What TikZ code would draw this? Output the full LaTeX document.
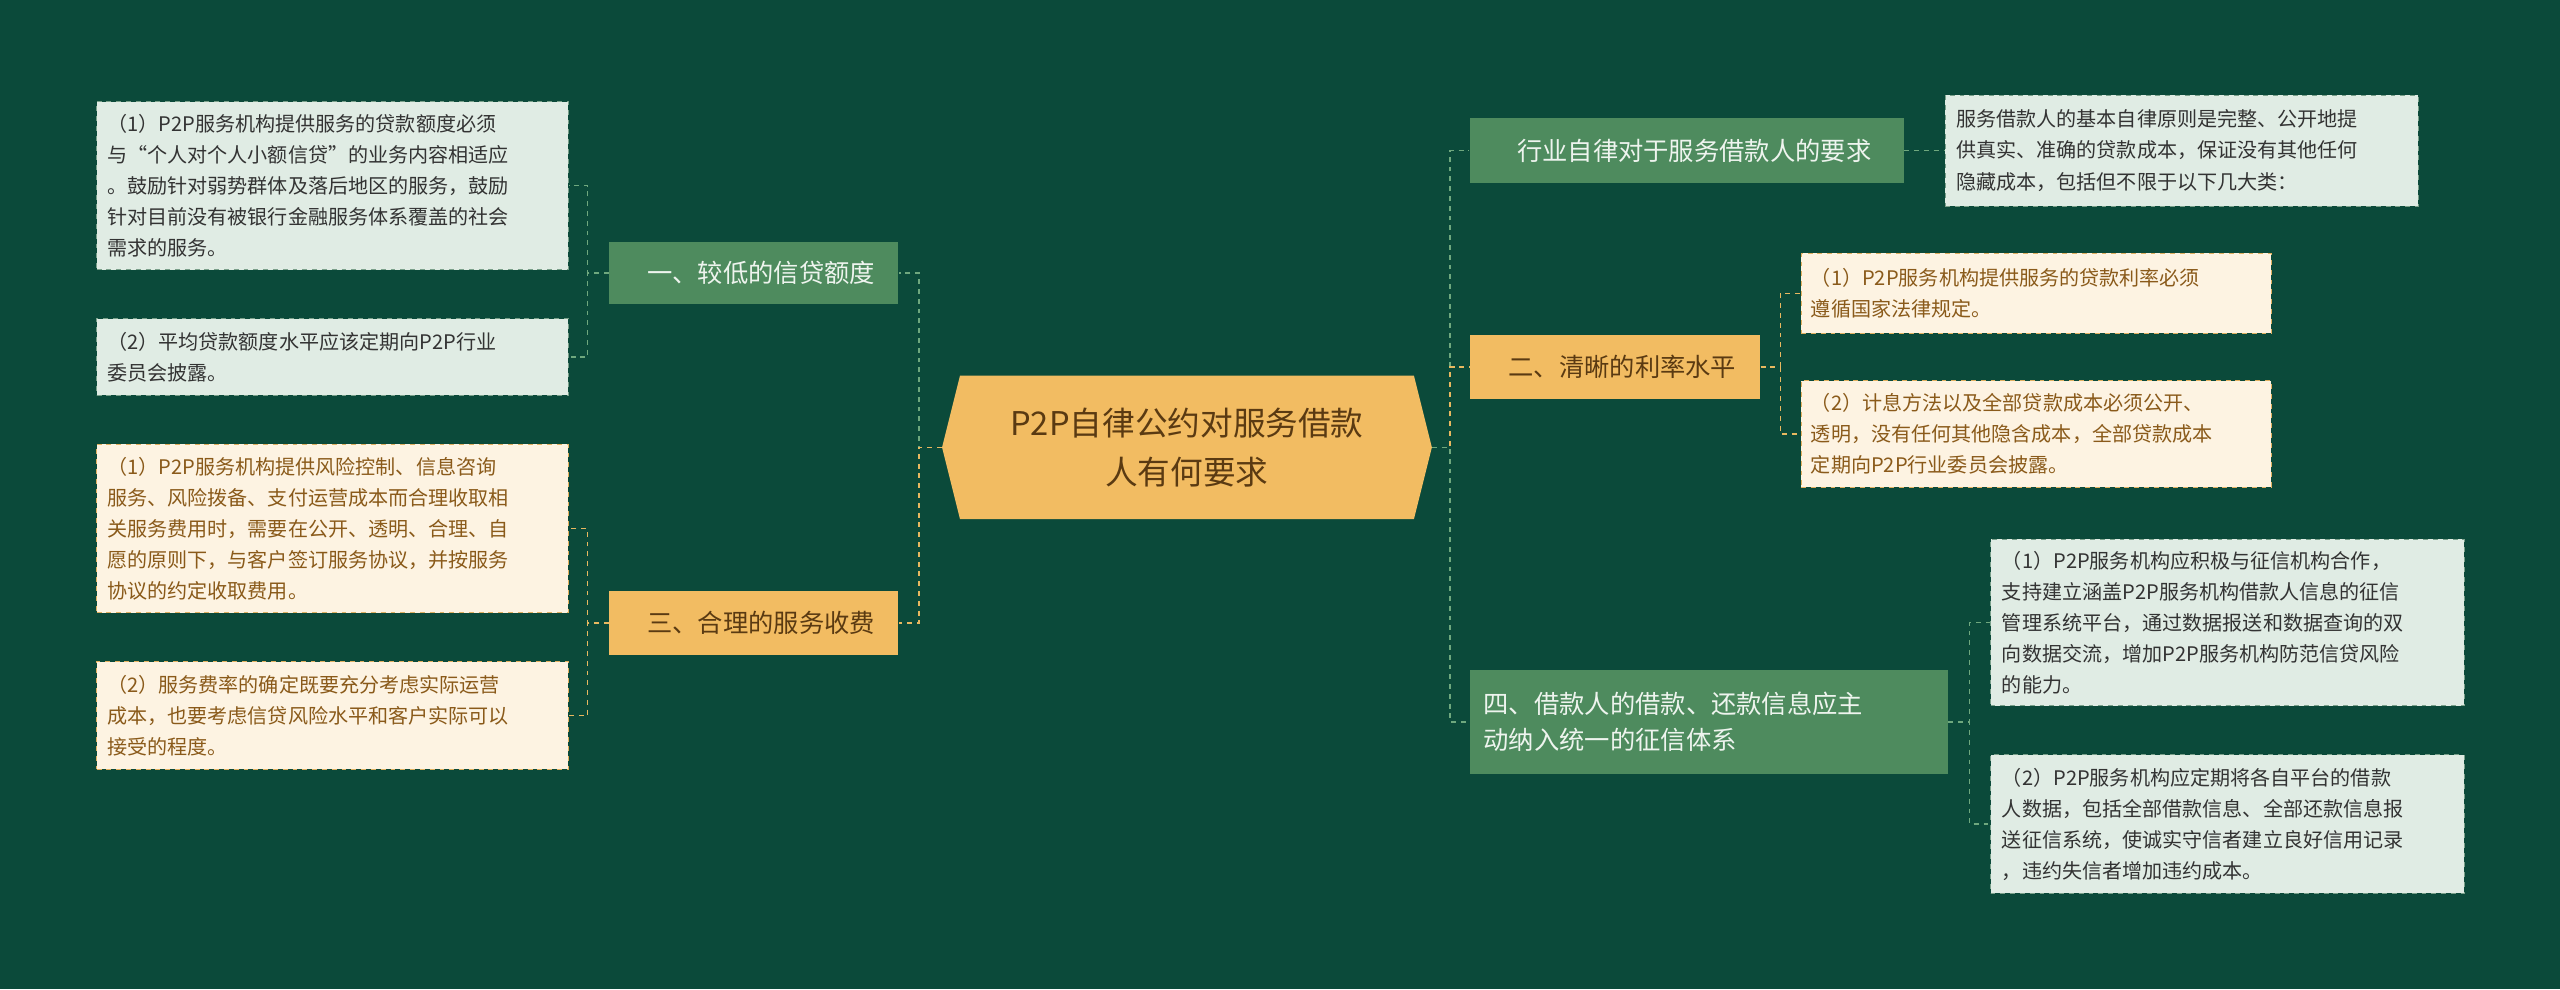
\documentclass[tikz,border=0pt]{standalone}
\usepackage{fontspec}
\setmainfont{Noto Sans CJK SC}
\begin{document}
\begin{tikzpicture}[x=1pt,y=-1pt,
  gb/.style={fill=gfill,text=gtext,inner sep=0pt,anchor=north west,font=\fontsize{15.5}{22}\selectfont,align=left},
  ob/.style={fill=ofill,text=otext,inner sep=0pt,anchor=north west,font=\fontsize{15.5}{22}\selectfont,align=left},
  gl/.style={fill=glfill,draw=glline,dashed,text=gltext,inner sep=0pt,anchor=north west,font=\fontsize{12.3}{19}\selectfont,align=left},
  ol/.style={fill=olfill,draw=olline,dashed,text=oltext,inner sep=0pt,anchor=north west,font=\fontsize{12.3}{19}\selectfont,align=left},
  gc/.style={draw=gline,dashed,line width=0.9pt},
  oc/.style={draw=oline,dashed,line width=0.9pt}]
\definecolor{bg}{HTML}{0B4A3A}
\definecolor{gfill}{HTML}{4E8B5E}
\definecolor{gtext}{HTML}{EEF4EE}
\definecolor{ofill}{HTML}{F2BC62}
\definecolor{otext}{HTML}{5A3A12}
\definecolor{glfill}{HTML}{E0ECE4}
\definecolor{glline}{HTML}{7AA08A}
\definecolor{gltext}{HTML}{333333}
\definecolor{olfill}{HTML}{FDF3E2}
\definecolor{olline}{HTML}{E0B060}
\definecolor{oltext}{HTML}{8A5A1A}
\definecolor{gline}{HTML}{6FA87E}
\definecolor{oline}{HTML}{E8B860}
\fill[bg] (0,0) rectangle (1568,606);
\useasboundingbox (0,0) rectangle (1568,606);
% center
\fill[ofill] (588,230) -- (866,230) -- (877,274) -- (866,318) -- (588,318) -- (577,274) -- cycle;
\node[inner sep=0pt,minimum width=300,minimum height=88,text=otext,align=center,font=\fontsize{20}{30}\selectfont] (c) at (727,274) {P2P自律公约对服务借款\\人有何要求};
% branches
\node[gb,minimum width=177,minimum height=38] (b1) at (373,148) {\hspace*{9pt}一、较低的信贷额度};
\node[ob,minimum width=177,minimum height=39] (b3) at (373,362) {\hspace*{9pt}三、合理的服务收费};
\node[gb,minimum width=266,minimum height=40] (r0) at (900,72) {\hspace*{9pt}行业自律对于服务借款人的要求};
\node[ob,minimum width=178,minimum height=39] (b2) at (900,205) {\hspace*{9pt}二、清晰的利率水平};
\node[gb,minimum width=293,minimum height=64,text width=276] (b4) at (900,410) {四、借款人的借款、还款信息应主\\动纳入统一的征信体系};
% leaves
\node[gl,minimum width=289,minimum height=103,text width=276] (l1) at (59,62) {（1）P2P服务机构提供服务的贷款额度必须\\与“个人对个人小额信贷”的业务内容相适应\\。鼓励针对弱势群体及落后地区的服务，鼓励\\针对目前没有被银行金融服务体系覆盖的社会\\需求的服务。};
\node[gl,minimum width=289,minimum height=47,text width=276] (l2) at (59,195) {（2）平均贷款额度水平应该定期向P2P行业\\委员会披露。};
\node[ol,minimum width=289,minimum height=103,text width=276] (l3) at (59,272) {（1）P2P服务机构提供风险控制、信息咨询\\服务、风险拨备、支付运营成本而合理收取相\\关服务费用时，需要在公开、透明、合理、自\\愿的原则下，与客户签订服务协议，并按服务\\协议的约定收取费用。};
\node[ol,minimum width=289,minimum height=66,text width=276] (l4) at (59,405) {（2）服务费率的确定既要充分考虑实际运营\\成本，也要考虑信贷风险水平和客户实际可以\\接受的程度。};
\node[gl,minimum width=290,minimum height=68,text width=276] (q0) at (1191,58) {服务借款人的基本自律原则是完整、公开地提\\供真实、准确的贷款成本，保证没有其他任何\\隐藏成本，包括但不限于以下几大类：};
\node[ol,minimum width=288,minimum height=49,text width=276] (q1) at (1103,155) {（1）P2P服务机构提供服务的贷款利率必须\\遵循国家法律规定。};
\node[ol,minimum width=288,minimum height=65,text width=276] (q2) at (1103,233) {（2）计息方法以及全部贷款成本必须公开、\\透明，没有任何其他隐含成本，全部贷款成本\\定期向P2P行业委员会披露。};
\node[gl,minimum width=290,minimum height=102,text width=276] (q3) at (1219,330) {（1）P2P服务机构应积极与征信机构合作，\\支持建立涵盖P2P服务机构借款人信息的征信\\管理系统平台，通过数据报送和数据查询的双\\向数据交流，增加P2P服务机构防范信贷风险\\的能力。};
\node[gl,minimum width=290,minimum height=85,text width=276] (q4) at (1219,462) {（2）P2P服务机构应定期将各自平台的借款\\人数据，包括全部借款信息、全部还款信息报\\送征信系统，使诚实守信者建立良好信用记录\\，违约失信者增加违约成本。};
% connectors center
\draw[gc] (c.west) -- ++(-14,0) |- (b1.east);
\draw[oc] (c.west) -- ++(-14,0) |- (b3.east);
\draw[gc] (c.east) -- ++(11,0) |- (r0.west);
\draw[oc] (c.east) -- ++(11,0) |- (b2.west);
\draw[gc] (c.east) -- ++(11,0) |- (b4.west);
% branch to leaves
\draw[gc] (b1.west) -- ++(-13,0) |- (l1.east);
\draw[gc] (b1.west) -- ++(-13,0) |- (l2.east);
\draw[oc] (b3.west) -- ++(-13,0) |- (l3.east);
\draw[oc] (b3.west) -- ++(-13,0) |- (l4.east);
\draw[gc] (r0.east) -- (q0.west |- r0.east);
\draw[oc] (b2.east) -- ++(12,0) |- (q1.west);
\draw[oc] (b2.east) -- ++(12,0) |- (q2.west);
\draw[gc] (b4.east) -- ++(13,0) |- (q3.west);
\draw[gc] (b4.east) -- ++(13,0) |- (q4.west);
\end{tikzpicture}
\end{document}
